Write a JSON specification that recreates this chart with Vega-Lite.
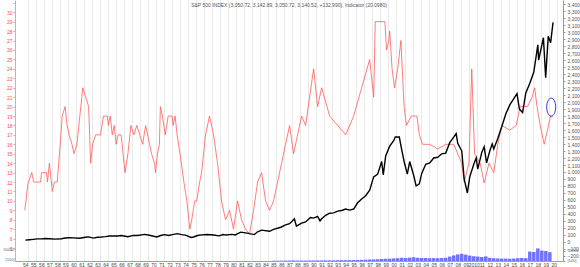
{
  "$schema": "https://vega.github.io/schema/vega-lite/v6.json",
  "width": 548,
  "height": 261,
  "autosize": "none",
  "padding": {"left": 15, "top": 0, "right": 17, "bottom": 6},
  "background": "white",
  "config": {"view": {"stroke": null}, "font": "Liberation Sans", "axis": {"labelOverlap": false, "labelFlush": false}},
  "title": {"text": "S&P 500 INDEX (3,050.72, 3,142.89, 3,050.72, 3,140.52, +132.990), Indicator (20.0980)", "fontSize": 5, "fontWeight": "normal", "color": "#555", "offset": -8, "anchor": "middle"},
  "datasets": {
    "ind": [
      {"t": 1953.94, "v": 9}, {"t": 1954.31, "v": 11.8}, {"t": 1954.8, "v": 13}, {"t": 1955.04, "v": 12}, {"t": 1955.9, "v": 12}, {"t": 1956.02, "v": 13}, {"t": 1956.64, "v": 13}, {"t": 1956.76, "v": 12}, {"t": 1957.0, "v": 14}, {"t": 1957.37, "v": 11}, {"t": 1957.62, "v": 12}, {"t": 1957.98, "v": 12}, {"t": 1958.35, "v": 16}, {"t": 1958.6, "v": 19}, {"t": 1958.97, "v": 20}, {"t": 1959.21, "v": 18}, {"t": 1959.46, "v": 17}, {"t": 1959.82, "v": 16}, {"t": 1960.07, "v": 15}, {"t": 1960.44, "v": 16}, {"t": 1960.8, "v": 19}, {"t": 1961.05, "v": 21}, {"t": 1961.17, "v": 22}, {"t": 1961.54, "v": 21}, {"t": 1961.9, "v": 20}, {"t": 1962.15, "v": 14}, {"t": 1962.4, "v": 16}, {"t": 1962.77, "v": 17}, {"t": 1963.38, "v": 17}, {"t": 1963.75, "v": 19}, {"t": 1964.24, "v": 19}, {"t": 1964.36, "v": 18}, {"t": 1964.6, "v": 19}, {"t": 1964.85, "v": 17}, {"t": 1965.1, "v": 18}, {"t": 1965.34, "v": 16}, {"t": 1965.59, "v": 17}, {"t": 1965.96, "v": 17}, {"t": 1966.2, "v": 15}, {"t": 1966.45, "v": 13}, {"t": 1966.81, "v": 15}, {"t": 1967.18, "v": 18}, {"t": 1967.55, "v": 17}, {"t": 1967.92, "v": 18}, {"t": 1968.29, "v": 17}, {"t": 1968.65, "v": 16}, {"t": 1969.02, "v": 18}, {"t": 1969.27, "v": 17}, {"t": 1969.51, "v": 16}, {"t": 1969.76, "v": 15}, {"t": 1970.13, "v": 14}, {"t": 1970.25, "v": 13}, {"t": 1970.5, "v": 15}, {"t": 1970.74, "v": 16}, {"t": 1970.86, "v": 20}, {"t": 1971.11, "v": 19}, {"t": 1971.47, "v": 17}, {"t": 1971.84, "v": 19}, {"t": 1972.33, "v": 19}, {"t": 1972.45, "v": 18}, {"t": 1972.7, "v": 19}, {"t": 1972.95, "v": 17}, {"t": 1973.31, "v": 15}, {"t": 1973.8, "v": 12}, {"t": 1974.17, "v": 10}, {"t": 1974.54, "v": 7}, {"t": 1974.78, "v": 8}, {"t": 1975.15, "v": 10}, {"t": 1975.4, "v": 10}, {"t": 1975.77, "v": 12}, {"t": 1976.01, "v": 13},
      {"t": 1976.5, "v": 17}, {"t": 1977.0, "v": 19}, {"t": 1977.5, "v": 17}, {"t": 1978.0, "v": 14}, {"t": 1978.5, "v": 10}, {"t": 1979.0, "v": 8}, {"t": 1979.5, "v": 9}, {"t": 1980.0, "v": 7}, {"t": 1980.5, "v": 10}, {"t": 1981.0, "v": 8}, {"t": 1981.5, "v": 7}, {"t": 1982.0, "v": 6.5}, {"t": 1982.5, "v": 9}, {"t": 1983.0, "v": 12}, {"t": 1983.5, "v": 13}, {"t": 1984.0, "v": 10}, {"t": 1984.5, "v": 9}, {"t": 1985.0, "v": 10}, {"t": 1985.5, "v": 12}, {"t": 1986.0, "v": 14}, {"t": 1986.5, "v": 16}, {"t": 1987.0, "v": 18}, {"t": 1987.5, "v": 15}, {"t": 1988.0, "v": 17}, {"t": 1988.5, "v": 19}, {"t": 1989.0, "v": 18}, {"t": 1989.5, "v": 21}, {"t": 1990.0, "v": 24}, {"t": 1990.5, "v": 20}, {"t": 1991.0, "v": 22}, {"t": 1992.0, "v": 19}, {"t": 1993.0, "v": 18}, {"t": 1994.0, "v": 17}, {"t": 1995.0, "v": 19}, {"t": 1996.0, "v": 22}, {"t": 1997.0, "v": 25}, {"t": 1997.5, "v": 21},
      {"t": 1997.7, "v": 29}, {"t": 1998.9, "v": 29}, {"t": 1999.1, "v": 26}, {"t": 1999.4, "v": 27}, {"t": 1999.5, "v": 28}, {"t": 1999.8, "v": 24}, {"t": 2000.1, "v": 22}, {"t": 2000.5, "v": 24}, {"t": 2000.9, "v": 27}, {"t": 2001.3, "v": 20}, {"t": 2001.6, "v": 18}, {"t": 2002.2, "v": 19}, {"t": 2002.9, "v": 19}, {"t": 2003.2, "v": 17}, {"t": 2003.6, "v": 16}, {"t": 2004.5, "v": 16}, {"t": 2005.5, "v": 15.5}, {"t": 2006.5, "v": 16}, {"t": 2007.5, "v": 16}, {"t": 2008.5, "v": 14}, {"t": 2008.8, "v": 12}, {"t": 2009.4, "v": 14}, {"t": 2009.75, "v": 24}, {"t": 2010.1, "v": 15}, {"t": 2010.8, "v": 14}, {"t": 2011.3, "v": 11.9}, {"t": 2011.9, "v": 14}, {"t": 2012.5, "v": 13}, {"t": 2013.0, "v": 16}, {"t": 2013.5, "v": 18}, {"t": 2014.5, "v": 17.5}, {"t": 2015.3, "v": 18}, {"t": 2015.8, "v": 20}, {"t": 2016.7, "v": 20}, {"t": 2017.3, "v": 21}, {"t": 2017.6, "v": 22}, {"t": 2017.9, "v": 20}, {"t": 2018.3, "v": 18}, {"t": 2018.8, "v": 16}, {"t": 2019.2, "v": 17.5}, {"t": 2019.6, "v": 19}, {"t": 2019.9, "v": 19}
    ],
    "px": [
      {"t": 1954.0, "p": 25}, {"t": 1954.5, "p": 30}, {"t": 1955.0, "p": 36}, {"t": 1955.5, "p": 43}, {"t": 1956.0, "p": 44}, {"t": 1956.5, "p": 48}, {"t": 1957.0, "p": 45}, {"t": 1957.8, "p": 40}, {"t": 1958.5, "p": 45}, {"t": 1959.0, "p": 55}, {"t": 1959.5, "p": 59}, {"t": 1960.0, "p": 58}, {"t": 1960.8, "p": 53}, {"t": 1961.5, "p": 66}, {"t": 1961.9, "p": 72}, {"t": 1962.5, "p": 54}, {"t": 1963.0, "p": 66}, {"t": 1963.5, "p": 70}, {"t": 1964.0, "p": 76}, {"t": 1964.5, "p": 84}, {"t": 1965.0, "p": 86}, {"t": 1965.5, "p": 85}, {"t": 1966.0, "p": 92}, {"t": 1966.8, "p": 75}, {"t": 1967.5, "p": 93}, {"t": 1968.0, "p": 92}, {"t": 1968.9, "p": 108}, {"t": 1969.5, "p": 95}, {"t": 1970.4, "p": 70}, {"t": 1971.0, "p": 95}, {"t": 1971.4, "p": 104}, {"t": 1971.9, "p": 92}, {"t": 1972.5, "p": 108}, {"t": 1973.0, "p": 119}, {"t": 1973.5, "p": 105}, {"t": 1974.0, "p": 97}, {"t": 1974.7, "p": 64}, {"t": 1975.0, "p": 70}, {"t": 1975.5, "p": 92}, {"t": 1976.0, "p": 100}, {"t": 1976.7, "p": 106}, {"t": 1977.5, "p": 98}, {"t": 1978.2, "p": 87}, {"t": 1978.7, "p": 106}, {"t": 1979.0, "p": 98}, {"t": 1979.8, "p": 108}, {"t": 1980.2, "p": 100}, {"t": 1980.9, "p": 140}, {"t": 1981.5, "p": 130}, {"t": 1982.6, "p": 105}, {"t": 1983.0, "p": 145}, {"t": 1983.5, "p": 168}, {"t": 1984.5, "p": 152}, {"t": 1985.0, "p": 180}, {"t": 1985.9, "p": 210}, {"t": 1986.5, "p": 245}, {"t": 1987.0, "p": 260}, {"t": 1987.6, "p": 330}, {"t": 1987.85, "p": 225}, {"t": 1988.5, "p": 270}, {"t": 1989.0, "p": 285}, {"t": 1989.6, "p": 350}, {"t": 1990.0, "p": 340}, {"t": 1990.5, "p": 365}, {"t": 1990.8, "p": 300}, {"t": 1991.0, "p": 330}, {"t": 1991.5, "p": 380}, {"t": 1992.0, "p": 410}, {"t": 1992.5, "p": 415}, {"t": 1993.0, "p": 440}, {"t": 1993.5, "p": 450}, {"t": 1994.0, "p": 470}, {"t": 1994.5, "p": 455}, {"t": 1995.0, "p": 470}, {"t": 1995.5, "p": 560}, {"t": 1996.0, "p": 615}, {"t": 1996.5, "p": 660}, {"t": 1997.0, "p": 740}, {"t": 1997.5, "p": 930}, {"t": 1998.0, "p": 970}, {"t": 1998.5, "p": 1150}, {"t": 1998.7, "p": 960}, {"t": 1999.0, "p": 1230}, {"t": 1999.5, "p": 1370}, {"t": 2000.0, "p": 1450}, {"t": 2000.2, "p": 1500}, {"t": 2000.7, "p": 1500}, {"t": 2001.0, "p": 1320}, {"t": 2001.3, "p": 1150}, {"t": 2001.7, "p": 970}, {"t": 2002.0, "p": 1150}, {"t": 2002.5, "p": 950}, {"t": 2002.8, "p": 800}, {"t": 2003.2, "p": 830}, {"t": 2003.5, "p": 980}, {"t": 2004.0, "p": 1110}, {"t": 2004.5, "p": 1130}, {"t": 2005.0, "p": 1200}, {"t": 2005.5, "p": 1210}, {"t": 2006.0, "p": 1260}, {"t": 2006.5, "p": 1270}, {"t": 2007.0, "p": 1420}, {"t": 2007.5, "p": 1500}, {"t": 2007.8, "p": 1550}, {"t": 2008.0, "p": 1410}, {"t": 2008.5, "p": 1300}, {"t": 2008.8, "p": 900}, {"t": 2009.2, "p": 700}, {"t": 2009.5, "p": 930}, {"t": 2010.0, "p": 1110}, {"t": 2010.3, "p": 1200}, {"t": 2010.5, "p": 1040}, {"t": 2011.0, "p": 1280}, {"t": 2011.3, "p": 1360}, {"t": 2011.6, "p": 1130}, {"t": 2012.0, "p": 1300}, {"t": 2012.3, "p": 1400}, {"t": 2012.5, "p": 1330}, {"t": 2013.0, "p": 1480}, {"t": 2013.5, "p": 1650}, {"t": 2014.0, "p": 1830}, {"t": 2014.5, "p": 1960}, {"t": 2015.0, "p": 2050}, {"t": 2015.4, "p": 2120}, {"t": 2015.7, "p": 1900}, {"t": 2016.1, "p": 1850}, {"t": 2016.5, "p": 2130}, {"t": 2017.0, "p": 2270}, {"t": 2017.5, "p": 2430}, {"t": 2018.0, "p": 2820}, {"t": 2018.1, "p": 2600}, {"t": 2018.7, "p": 2920}, {"t": 2018.98, "p": 2350}, {"t": 2019.3, "p": 2940}, {"t": 2019.6, "p": 2850}, {"t": 2019.9, "p": 3140}
    ],
    "vol": [
      {"t": 1985.0, "q": 1500}, {"t": 1985.5, "q": 1600}, {"t": 1986.0, "q": 1800}, {"t": 1986.5, "q": 2000}, {"t": 1987.0, "q": 2500}, {"t": 1987.5, "q": 3000}, {"t": 1988.0, "q": 2200}, {"t": 1988.5, "q": 2100}, {"t": 1989.0, "q": 2300}, {"t": 1989.5, "q": 2600}, {"t": 1990.0, "q": 2800}, {"t": 1990.5, "q": 2900}, {"t": 1991.0, "q": 3200}, {"t": 1991.5, "q": 3300}, {"t": 1992.0, "q": 3500}, {"t": 1992.5, "q": 3400}, {"t": 1993.0, "q": 4000}, {"t": 1993.5, "q": 4200}, {"t": 1994.0, "q": 4300}, {"t": 1994.5, "q": 4200}, {"t": 1995.0, "q": 4800}, {"t": 1995.5, "q": 5200}, {"t": 1996.0, "q": 6000}, {"t": 1996.5, "q": 6500}, {"t": 1997.0, "q": 7500}, {"t": 1997.5, "q": 8000}, {"t": 1998.0, "q": 9000}, {"t": 1998.5, "q": 10000}, {"t": 1999.0, "q": 11000}, {"t": 1999.5, "q": 11500}, {"t": 2000.0, "q": 13000}, {"t": 2000.5, "q": 14000}, {"t": 2001.0, "q": 16000}, {"t": 2001.5, "q": 15000}, {"t": 2002.0, "q": 17000}, {"t": 2002.5, "q": 19000}, {"t": 2003.0, "q": 16000}, {"t": 2003.5, "q": 15000}, {"t": 2004.0, "q": 15000}, {"t": 2004.5, "q": 14000}, {"t": 2005.0, "q": 14500}, {"t": 2005.5, "q": 14000}, {"t": 2006.0, "q": 15000}, {"t": 2006.5, "q": 16000}, {"t": 2007.0, "q": 22000}, {"t": 2007.5, "q": 28000}, {"t": 2008.0, "q": 33000}, {"t": 2008.5, "q": 36000}, {"t": 2009.0, "q": 32000}, {"t": 2009.5, "q": 27000}, {"t": 2010.0, "q": 24000}, {"t": 2010.5, "q": 22000}, {"t": 2011.0, "q": 20000}, {"t": 2011.5, "q": 23000}, {"t": 2012.0, "q": 16000}, {"t": 2012.5, "q": 14000}, {"t": 2013.0, "q": 13000}, {"t": 2013.5, "q": 12000}, {"t": 2014.0, "q": 12000}, {"t": 2014.5, "q": 11000}, {"t": 2015.0, "q": 12000}, {"t": 2015.5, "q": 14000}, {"t": 2016.0, "q": 15000}, {"t": 2016.5, "q": 14000}, {"t": 2017.0, "q": 47000}, {"t": 2017.5, "q": 45000}, {"t": 2018.0, "q": 63000}, {"t": 2018.5, "q": 52000}, {"t": 2019.0, "q": 50000}, {"t": 2019.5, "q": 44000}
    ]
  },
  "layer": [
    {
      "layer": [
        {
          "data": {"name": "ind"},
          "mark": {"type": "line", "color": "#ff5a5a", "strokeWidth": 0.8, "clip": true},
          "encoding": {
            "x": {"field": "t", "type": "quantitative", "scale": {"domain": [1953.33, 2020.52], "nice": false, "zero": false},
              "axis": {"values": [1954,1955,1956,1957,1958,1959,1960,1961,1962,1963,1964,1965,1966,1967,1968,1969,1970,1971,1972,1973,1974,1975,1976,1977,1978,1979,1980,1981,1982,1983,1984,1985,1986,1987,1988,1989,1990,1991,1992,1993,1994,1995,1996,1997,1998,1999,2000,2001,2002,2003,2004,2005,2006,2007,2008,2009,2010,2011,2012,2013,2014,2015,2016,2017,2018,2019,2020], "labelExpr": "datum.value == 2010 ? '2010' : (datum.value % 100 < 10 ? '0' + (datum.value % 100) : '' + (datum.value % 100))", "title": null, "grid": true, "gridColor": "#c8c8c8", "gridDash": [1, 1], "gridWidth": 0.8, "tickOffset": 2.8, "labelOffset": -2.8, "ticks": false, "domain": true, "domainColor": "#7a7aff", "domainWidth": 0.8, "labelFontSize": 5, "labelColor": "#444", "labelPadding": 1, "labelFlush": false, "labelOverlap": false}},
            "y": {"field": "v", "type": "quantitative", "scale": {"domain": [3.63, 31.3], "nice": false, "zero": false},
              "axis": {"orient": "left", "values": [5,6,7,8,9,10,11,12,13,14,15,16,17,18,19,20,21,22,23,24,25,26,27,28,29,30,31], "labelExpr": "datum.value == 31 ? '' : datum.label", "title": null, "grid": false, "labelFontSize": 5, "labelColor": "#ff4d4d", "domainColor": "#ff9a9a", "tickColor": "#ff9a9a", "tickSize": 2, "labelPadding": 1, "labelFlush": false, "labelOverlap": false}}
          }
        },
        {
          "mark": {"type": "rule", "color": "#ff6a6a", "strokeDash": [1, 1], "strokeWidth": 0.8},
          "encoding": {"y": {"datum": 29, "type": "quantitative", "scale": {"domain": [3.63, 31.3], "nice": false, "zero": false},
              "axis": {"orient": "left", "values": [5,6,7,8,9,10,11,12,13,14,15,16,17,18,19,20,21,22,23,24,25,26,27,28,29,30,31], "labelExpr": "datum.value == 31 ? '' : datum.label", "title": null, "grid": false, "labelFontSize": 5, "labelColor": "#ff4d4d", "domainColor": "#ff9a9a", "tickColor": "#ff9a9a", "tickSize": 2, "labelPadding": 1, "labelFlush": false, "labelOverlap": false}}}
        },
        {
          "mark": {"type": "rule", "color": "#9a9aff", "strokeDash": [1, 1], "strokeWidth": 0.8},
          "encoding": {"y": {"datum": 20, "type": "quantitative", "scale": {"domain": [3.63, 31.3], "nice": false, "zero": false},
              "axis": {"orient": "left", "values": [5,6,7,8,9,10,11,12,13,14,15,16,17,18,19,20,21,22,23,24,25,26,27,28,29,30,31], "labelExpr": "datum.value == 31 ? '' : datum.label", "title": null, "grid": false, "labelFontSize": 5, "labelColor": "#ff4d4d", "domainColor": "#ff9a9a", "tickColor": "#ff9a9a", "tickSize": 2, "labelPadding": 1, "labelFlush": false, "labelOverlap": false}}}
        },
        {
          "data": {"values": [{"t": 2019.67, "v": 19.94}]},
          "mark": {"type": "point", "shape": "M0,-1A0.5,1 0 1,1 0,1A0.5,1 0 1,1 0,-1Z", "size": 324, "filled": false, "color": "#3333dd", "strokeWidth": 1, "opacity": 1},
          "encoding": {
            "x": {"field": "t", "type": "quantitative", "scale": {"domain": [1953.33, 2020.52], "nice": false, "zero": false},
              "axis": {"values": [1954,1955,1956,1957,1958,1959,1960,1961,1962,1963,1964,1965,1966,1967,1968,1969,1970,1971,1972,1973,1974,1975,1976,1977,1978,1979,1980,1981,1982,1983,1984,1985,1986,1987,1988,1989,1990,1991,1992,1993,1994,1995,1996,1997,1998,1999,2000,2001,2002,2003,2004,2005,2006,2007,2008,2009,2010,2011,2012,2013,2014,2015,2016,2017,2018,2019,2020], "labelExpr": "datum.value == 2010 ? '2010' : (datum.value % 100 < 10 ? '0' + (datum.value % 100) : '' + (datum.value % 100))", "title": null, "grid": true, "gridColor": "#c8c8c8", "gridDash": [1, 1], "gridWidth": 0.8, "tickOffset": 2.8, "labelOffset": -2.8, "ticks": false, "domain": true, "domainColor": "#7a7aff", "domainWidth": 0.8, "labelFontSize": 5, "labelColor": "#444", "labelPadding": 1, "labelFlush": false, "labelOverlap": false}},
            "y": {"field": "v", "type": "quantitative", "scale": {"domain": [3.63, 31.3], "nice": false, "zero": false},
              "axis": {"orient": "left", "values": [5,6,7,8,9,10,11,12,13,14,15,16,17,18,19,20,21,22,23,24,25,26,27,28,29,30,31], "labelExpr": "datum.value == 31 ? '' : datum.label", "title": null, "grid": false, "labelFontSize": 5, "labelColor": "#ff4d4d", "domainColor": "#ff9a9a", "tickColor": "#ff9a9a", "tickSize": 2, "labelPadding": 1, "labelFlush": false, "labelOverlap": false}}
          }
        }
      ]
    },
    {
      "data": {"name": "px"},
      "mark": {"type": "line", "color": "#000", "strokeWidth": 1.4},
      "encoding": {
        "x": {"field": "t", "type": "quantitative", "scale": {"domain": [1953.33, 2020.52], "nice": false, "zero": false},
          "axis": {"values": [1954,1955,1956,1957,1958,1959,1960,1961,1962,1963,1964,1965,1966,1967,1968,1969,1970,1971,1972,1973,1974,1975,1976,1977,1978,1979,1980,1981,1982,1983,1984,1985,1986,1987,1988,1989,1990,1991,1992,1993,1994,1995,1996,1997,1998,1999,2000,2001,2002,2003,2004,2005,2006,2007,2008,2009,2010,2011,2012,2013,2014,2015,2016,2017,2018,2019,2020], "labelExpr": "datum.value == 2010 ? '2010' : (datum.value % 100 < 10 ? '0' + (datum.value % 100) : '' + (datum.value % 100))", "title": null, "grid": true, "gridColor": "#c8c8c8", "gridDash": [1, 1], "gridWidth": 0.8, "tickOffset": 2.8, "labelOffset": -2.8, "ticks": false, "domain": true, "domainColor": "#7a7aff", "domainWidth": 0.8, "labelFontSize": 5, "labelColor": "#444", "labelPadding": 1, "labelFlush": false, "labelOverlap": false}},
        "y": {"field": "p", "type": "quantitative", "scale": {"domain": [-273, 3460], "nice": false, "zero": false},
          "axis": {"orient": "right", "values": [-200,-100,0,100,200,300,400,500,600,700,800,900,1000,1100,1200,1300,1400,1500,1600,1700,1800,1900,2000,2100,2200,2300,2400,2500,2600,2700,2800,2900,3000,3100,3200,3300,3400], "title": null, "grid": false, "labelFontSize": 5, "labelColor": "#555", "domainColor": "#999", "tickColor": "#999", "tickSize": 2, "labelPadding": 2, "labelFlush": false, "labelOverlap": false}}
      }
    },
    {
      "data": {"name": "vol"},
      "mark": {"type": "bar", "color": "#5a5aff", "size": 3.5, "opacity": 0.85},
      "encoding": {
        "x": {"field": "t", "type": "quantitative", "scale": {"domain": [1953.33, 2020.52], "nice": false, "zero": false},
          "axis": {"values": [1954,1955,1956,1957,1958,1959,1960,1961,1962,1963,1964,1965,1966,1967,1968,1969,1970,1971,1972,1973,1974,1975,1976,1977,1978,1979,1980,1981,1982,1983,1984,1985,1986,1987,1988,1989,1990,1991,1992,1993,1994,1995,1996,1997,1998,1999,2000,2001,2002,2003,2004,2005,2006,2007,2008,2009,2010,2011,2012,2013,2014,2015,2016,2017,2018,2019,2020], "labelExpr": "datum.value == 2010 ? '2010' : (datum.value % 100 < 10 ? '0' + (datum.value % 100) : '' + (datum.value % 100))", "title": null, "grid": true, "gridColor": "#c8c8c8", "gridDash": [1, 1], "gridWidth": 0.8, "tickOffset": 2.8, "labelOffset": -2.8, "ticks": false, "domain": true, "domainColor": "#7a7aff", "domainWidth": 0.8, "labelFontSize": 5, "labelColor": "#444", "labelPadding": 1, "labelFlush": false, "labelOverlap": false}},
        "y": {"field": "q", "type": "quantitative", "scale": {"domain": [0, 1305000], "nice": false, "zero": false},
          "axis": {"orient": "left", "values": [0, 50000], "labelExpr": "datum.value == 0 ? '[100]' : '50000'", "title": null, "grid": false, "ticks": false, "domain": false, "labelFontSize": 4, "labelColor": "#666", "labelPadding": 1, "labelOffset": -1.5, "labelOverlap": false}}
      }
    },
    {
      "mark": {"type": "rule", "color": "#b5b5b5", "strokeWidth": 1},
      "encoding": {
        "y": {"datum": 67500, "type": "quantitative", "scale": {"domain": [0, 1305000], "nice": false, "zero": false},
          "axis": {"orient": "right", "values": [0, 50000], "labelExpr": "datum.value == 0 ? '[100]' : '50000'", "title": null, "grid": false, "ticks": true, "tickSize": 2, "tickColor": "#999", "domain": false, "labelFontSize": 4, "labelColor": "#666", "labelPadding": 2, "labelOffset": -1, "labelOverlap": false}}
      }
    }
  ],
  "resolve": {"scale": {"y": "independent"}, "axis": {"y": "independent"}}
}
